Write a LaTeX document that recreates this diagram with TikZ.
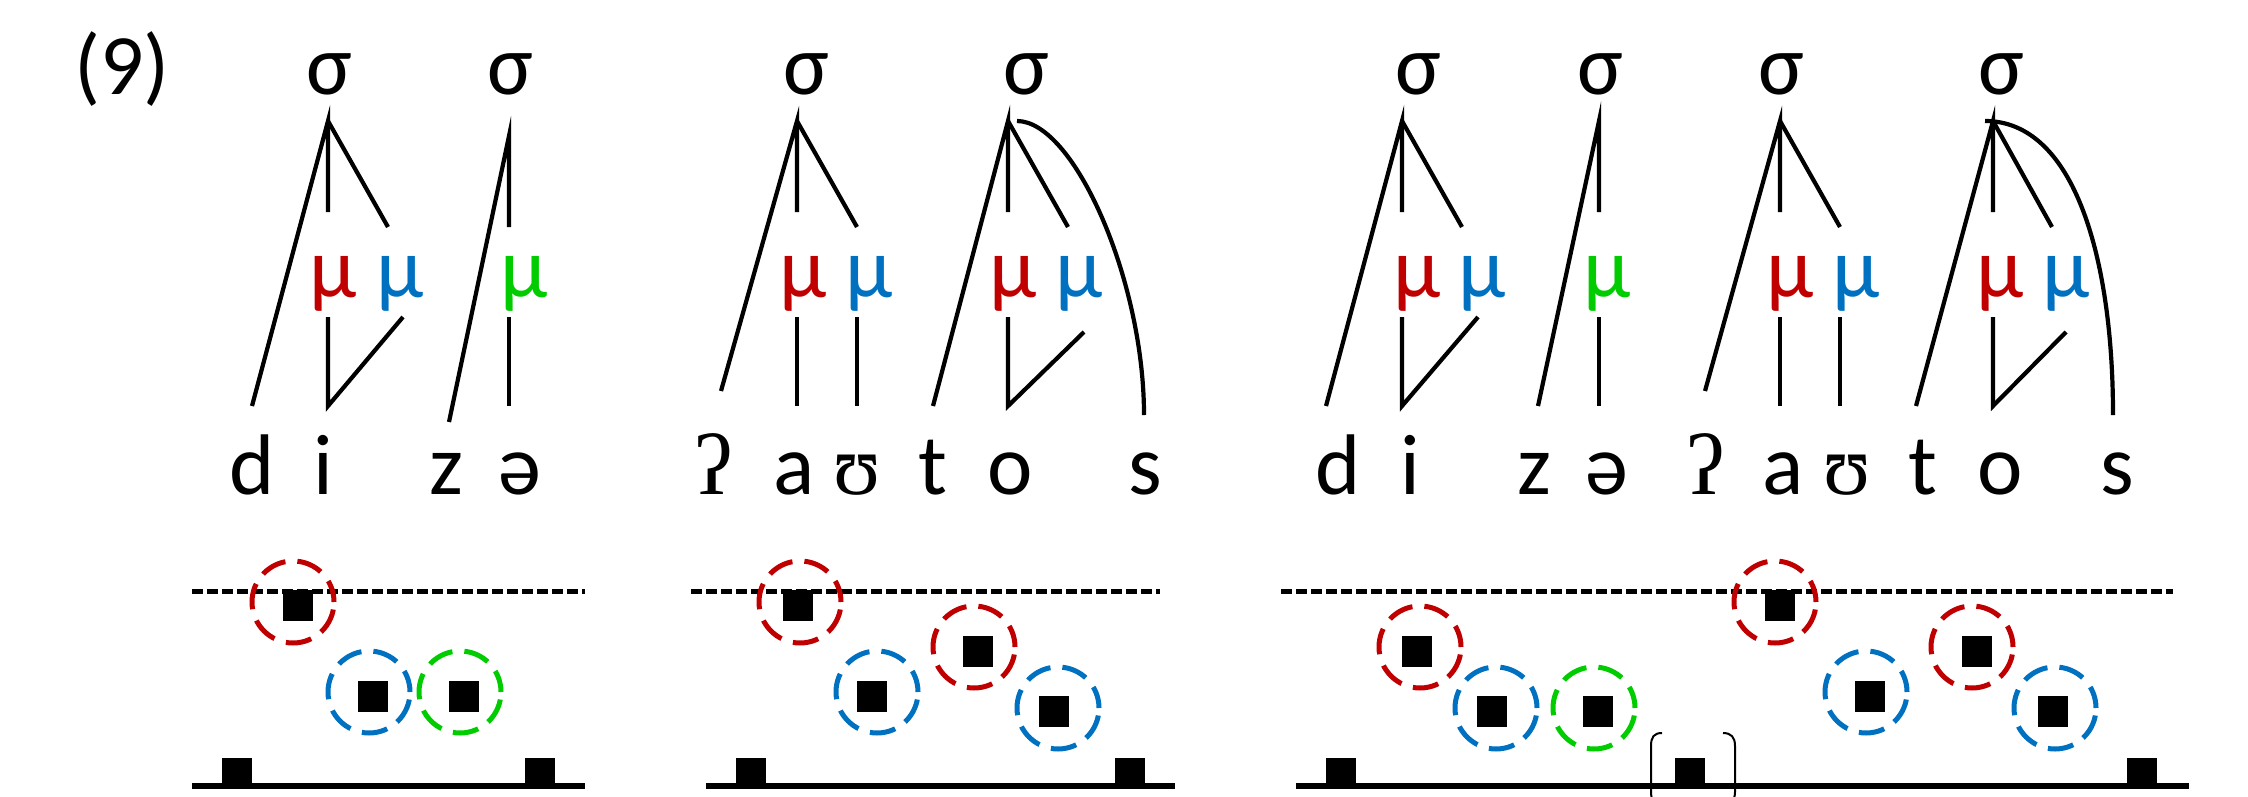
\documentclass[tikz,border=0pt]{standalone}
\usepackage{fontspec}
\setmainfont{Carlito}
\newfontfamily\ipafont{Liberation Serif}
\definecolor{moraRed}{HTML}{C00000}
\definecolor{moraBlue}{HTML}{0070C0}
\definecolor{moraGreen}{HTML}{00CC00}
\begin{document}
\begin{tikzpicture}[x=1pt,y=-1pt,
  txt/.style={anchor=base,inner sep=0pt,font=\fontsize{86}{100}\selectfont},
  tree/.style={line width=4.2pt},
  mr/.style={txt,text=moraRed},
  mb/.style={txt,text=moraBlue},
  mg/.style={txt,text=moraGreen},
  blk/.style={fill=black,inner sep=0pt,minimum width=30pt,minimum height=31pt},
  foot/.style={fill=black,inner sep=0pt,minimum width=30pt,minimum height=28pt,anchor=south},
  ring/.style={circle,draw,line width=5pt,dash pattern=on 26pt off 12pt,dash phase=4pt,minimum size=82pt,inner sep=0pt},
  tier/.style={line width=5pt,dash pattern=on 11pt off 4pt},
  floor/.style={line width=5.5pt},
  paren/.style={line width=2pt}]
\useasboundingbox (0,0) rectangle (2248,797);

% example number
\node[txt] (num) at (122,95) {(9)};

% ---------- syllable trees ----------
% syllable nodes
\foreach \n/\x in {s1/329,s2/510,s3/806,s4/1026,s5/1418,s6/1600,s7/1781,s8/2001}
  \node[txt] (\n) at (\x,95) {σ};

% moras
\node[mr] (m1a) at (333,297) {μ};  \node[mb] (m1b) at (400,297) {μ};
\node[mg] (m2a) at (524,297) {μ};
\node[mr] (m3a) at (803,297) {μ};  \node[mb] (m3b) at (869,297) {μ};
\node[mr] (m4a) at (1013,297) {μ}; \node[mb] (m4b) at (1079,297) {μ};
\node[mr] (m5a) at (1417,297) {μ}; \node[mb] (m5b) at (1482,297) {μ};
\node[mg] (m6a) at (1607,297) {μ};
\node[mr] (m7a) at (1790,297) {μ}; \node[mb] (m7b) at (1856,297) {μ};
\node[mr] (m8a) at (2000,297) {μ}; \node[mb] (m8b) at (2066,297) {μ};

% segments
\node[txt] (d1) at (252,494) {d};
\node[txt] (i1) at (323,494) {i};
\node[txt] (z1) at (446,494) {z};
\node[txt] (e1) at (520,494) {ə};
\node[txt] (q2) at (714,494) {\ipafont ʔ};
\node[txt] (a2) at (794,494) {a};
\node[txt] (u2) at (857,494) {\ipafont ʊ};
\node[txt] (t2) at (933,494) {t};
\node[txt] (o2) at (1010,494) {o};
\node[txt] (ss2) at (1145,494) {s};
\node[txt] (d3) at (1338,494) {d};
\node[txt] (i3) at (1410,494) {i};
\node[txt] (z3) at (1534,494) {z};
\node[txt] (e3) at (1607,494) {ə};
\node[txt] (q3) at (1706,494) {\ipafont ʔ};
\node[txt] (a3) at (1783,494) {a};
\node[txt] (u3) at (1847,494) {\ipafont ʊ};
\node[txt] (t3) at (1923,494) {t};
\node[txt] (o3) at (2000,494) {o};
\node[txt] (ss3) at (2117,494) {s};

% tree 1: di
\coordinate (p1) at (328,121);
\draw[tree] (252,406) -- (p1) -- (328,212);
\draw[tree] (p1) -- (388,227);
\draw[tree] (328,317) -- (328,406) -- (403,317);
% tree 2: ze
\coordinate (p2) at (509,136);
\draw[tree] (449,422) -- (p2) -- (509,227);
\draw[tree] (509,317) -- (509,406);
% tree 3: au
\coordinate (p3) at (797,121);
\draw[tree] (721,391) -- (p3) -- (797,212);
\draw[tree] (p3) -- (857,227);
\draw[tree] (797,317) -- (797,406);
\draw[tree] (857,317) -- (857,406);
% tree 4: tos
\coordinate (p4) at (1008,121);
\draw[tree] (933,406) -- (p4) -- (1008,212);
\draw[tree] (p4) -- (1068,227);
\draw[tree] (1008,317) -- (1008,406) -- (1084,332);
\draw[tree] (1017,121) .. controls (1074,121) and (1144,280) .. (1144,415);
% tree 5: di
\coordinate (p5) at (1402,121);
\draw[tree] (1326,406) -- (p5) -- (1402,212);
\draw[tree] (p5) -- (1462,227);
\draw[tree] (1402,317) -- (1402,406) -- (1478,317);
% tree 6: ze
\coordinate (p6) at (1599,121);
\draw[tree] (1538,406) -- (p6) -- (1599,212);
\draw[tree] (1599,317) -- (1599,406);
% tree 7: au
\coordinate (p7) at (1780,121);
\draw[tree] (1705,391) -- (p7) -- (1780,212);
\draw[tree] (p7) -- (1840,227);
\draw[tree] (1780,317) -- (1780,406);
\draw[tree] (1840,317) -- (1840,406);
% tree 8: tos
\coordinate (p8) at (1993,121);
\draw[tree] (1916,406) -- (p8) -- (1993,212);
\draw[tree] (p8) -- (2052,227);
\draw[tree] (1993,317) -- (1993,406) -- (2066,332);
\draw[tree] (1985,121) .. controls (2075,121) and (2113,260) .. (2113,415);

% ---------- pitch tracks ----------
% reference lines
\draw[tier] (192,591) -- (585,591);
\draw[tier] (691,591) -- (1160,591);
\draw[tier] (1281,591) -- (2173,591);
\draw[floor] (192,786) -- (585,786);
\draw[floor] (706,786) -- (1175,786);
\draw[floor] (1296,786) -- (2189,786);

% boundary markers on the floor
\foreach \n/\x in {f1/237,f2/540,f3/751,f4/1130,f5/1341,f6/1690,f7/2142}
  \node[foot] (\n) at (\x,786) {};

% tone targets
\foreach \n/\x/\y in {b1/298/605,b2/373/696,b3/464/696,
    b4/798/605,b5/978/651,b6/872/696,b7/1054/711,
    b8/1417/651,b9/1492/711,b10/1598/711,b11/1780/605,b12/1870/696,b13/1977/651,b14/2053/711}
  \node[blk] (\n) at (\x,\y) {};

% mora rings
\foreach \n/\x/\y/\c in {r1/293/602/moraRed,r2/369/692/moraBlue,r3/460/692/moraGreen,
    r4/800/602/moraRed,r5/974/647/moraRed,r6/877/692/moraBlue,r7/1058/708/moraBlue,
    r8/1420/647/moraRed,r9/1496/708/moraBlue,r10/1594/708/moraGreen,r11/1775/602/moraRed,
    r12/1866/692/moraBlue,r13/1972/647/moraRed,r14/2055/708/moraBlue}
  \node[ring,draw=\c] (\n) at (\x,\y) {};

% brackets around the word-boundary marker
\draw[paren] (1662,733) .. controls (1654,733) and (1651,737) .. (1651,746) -- (1651,792)
  .. controls (1651,800) and (1654,804) .. (1662,804);
\draw[paren] (1723,733) .. controls (1731,733) and (1735,737) .. (1735,746) -- (1735,792)
  .. controls (1735,800) and (1731,804) .. (1723,804);
\end{tikzpicture}
\end{document}
